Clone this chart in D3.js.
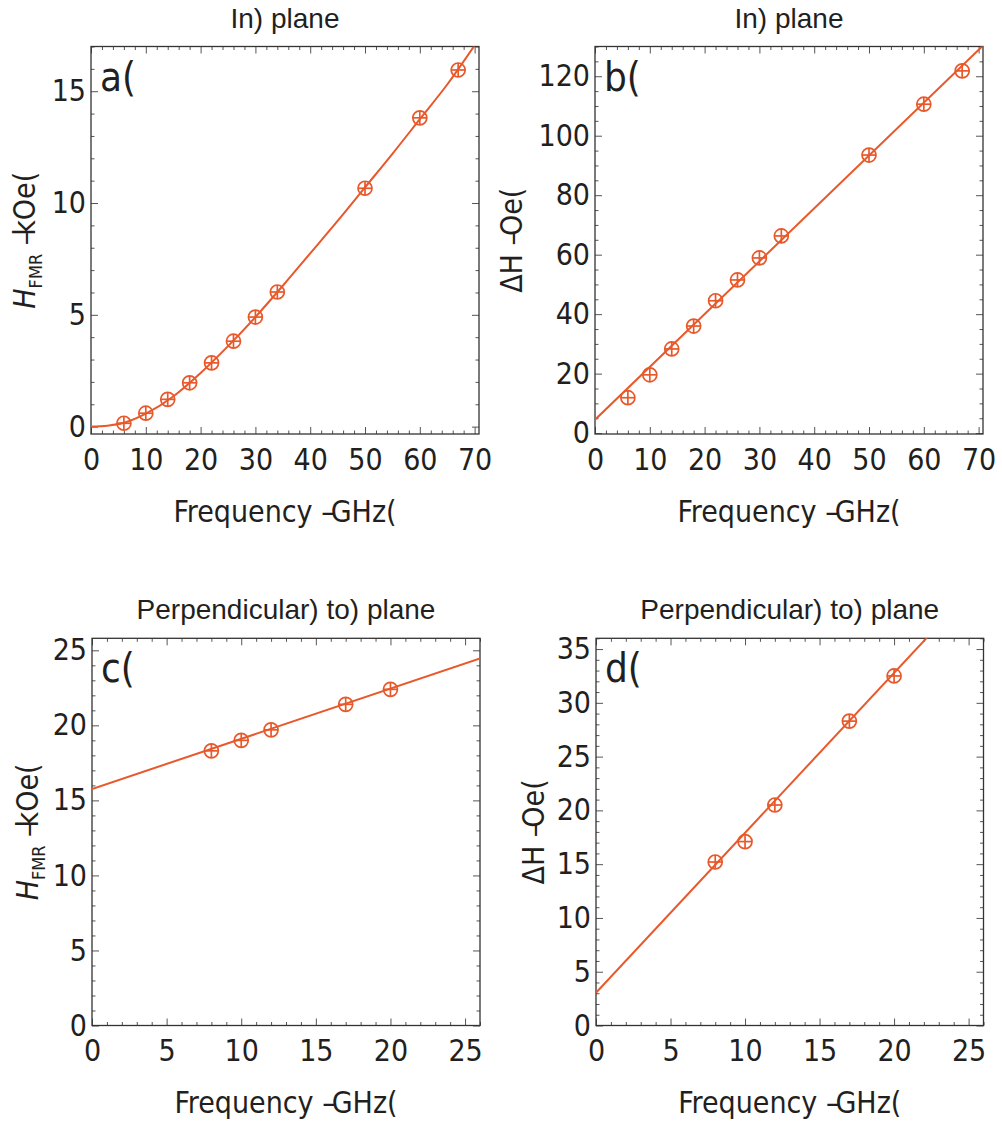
<!DOCTYPE html>
<html>
<head>
<meta charset="utf-8">
<script src="https://cdn.jsdelivr.net/npm/d3@7"></script>
<style>
  body { margin: 0; background: #fff; }
  svg { display: block; }
  .tick text { font-family: "DejaVu Sans Condensed", "DejaVu Sans", sans-serif; font-size: 30px; fill: #231f20; }
  .tick line { stroke: #555; stroke-width: 1; }
  .lbl { font-family: "DejaVu Sans Condensed", "DejaVu Sans", sans-serif; font-size: 30px; fill: #231f20; }
  .ttl { font-family: "Liberation Sans", Arial, sans-serif; font-size: 28px; fill: #231f20; }
</style>
</head>
<body>
<script>
// measured points (GHz vs field / linewidth)
var freqInPlane = [6, 10, 14, 18, 22, 26, 30, 34, 50, 60, 67];
var hfmrInPlane = [0.15, 0.6, 1.22, 1.96, 2.85, 3.82, 4.9, 6.02, 10.66, 13.81, 15.95];
var dhInPlane = [11.9, 19.6, 28.3, 36.0, 44.5, 51.5, 58.9, 66.3, 93.5, 110.6, 121.8];

var freqPerp = [8, 10, 12, 17, 20];
var hfmrPerp = [18.3, 19.0, 19.7, 21.4, 22.4];
var dhPerp = [15.2, 17.1, 20.5, 28.3, 32.5];

// fitted lines
var fitAFreq = [0, 3, 6, 10, 15, 20, 25, 30, 35, 40, 45, 50, 55, 60, 65, 70];
var fitAH = [0, 0.04, 0.17, 0.58, 1.35, 2.4, 3.6, 4.9, 6.3, 7.75, 9.2, 10.7, 12.2, 13.75, 15.3, 17.05];
var fitBFreq = [0, 70.8];
var fitBdH = [4.5, 130.3];
var fitCFreq = [0, 26];
var fitCH = [15.76, 24.45];
var fitDFreq = [0, 26];
var fitDdH = [3.05, 41.7];

var titleIn = "In) plane";
var titlePerp = "Perpendicular) to) plane";

var markColour = '#e8582a';
var frameColour = '#333';

var svg = d3.select("body").append("svg")
  .attr("width", 1002)
  .attr("height", 1122);

var panels = [
  { id: "a", left: 91, top: 46.5, w: 388, h: 387.5, title: titleIn, letter: "a(",
    xDom: [0, 70.8], yDom: [-0.33, 17.0], xMaj: 10, xMin: 2, yMaj: 5, yMin: 1,
    px: freqInPlane, py: hfmrInPlane, fx: fitAFreq, fy: fitAH, ylab: "H", labX: 35 },
  { id: "b", left: 595, top: 46.5, w: 388, h: 387.5, title: titleIn, letter: "b(",
    xDom: [0, 70.8], yDom: [-0.3, 130], xMaj: 10, xMin: 2, yMaj: 20, yMin: 5,
    px: freqInPlane, py: dhInPlane, fx: fitBFreq, fy: fitBdH, ylab: "dH", labX: 522 },
  { id: "c", left: 92, top: 638.3, w: 388, h: 387.2, title: titlePerp, letter: "c(",
    xDom: [0, 26], yDom: [0, 25.8], xMaj: 5, xMin: 1, yMaj: 5, yMin: 1,
    px: freqPerp, py: hfmrPerp, fx: fitCFreq, fy: fitCH, ylab: "H", labX: 38 },
  { id: "d", left: 596, top: 638.3, w: 387.5, h: 387.2, title: titlePerp, letter: "d(",
    xDom: [0, 26], yDom: [0, 36], xMaj: 5, xMin: 1, yMaj: 5, yMin: 1,
    px: freqPerp, py: dhPerp, fx: fitDFreq, fy: fitDdH, ylab: "dH", labX: 544 }
];

function steps(dom, step) {
  var out = [];
  var start = Math.ceil(dom[0] / step - 1e-9) * step;
  for (var v = start; v <= dom[1] + 1e-9; v += step) out.push(+v.toFixed(6));
  return out;
}

function drawPanel(p) {
  var x = d3.scaleLinear().domain(p.xDom).range([0, p.w]);
  var y = d3.scaleLinear().domain(p.yDom).range([p.h, 0]);
  var g = svg.append("g").attr("transform", "translate(" + p.left + "," + p.top + ")");

  var xMaj = steps(p.xDom, p.xMaj), xMin = steps(p.xDom, p.xMin);
  var yMaj = steps(p.yDom, p.yMaj), yMin = steps(p.yDom, p.yMin);
  xMin = xMin.filter(function(v) { return xMaj.indexOf(v) < 0; });
  yMin = yMin.filter(function(v) { return yMaj.indexOf(v) < 0; });

  // inward ticks on all four sides
  function ax(gen, scale, vals, size, fmt, pad) {
    return gen(scale).tickValues(vals).tickSize(size).tickPadding(pad).tickFormat(fmt);
  }
  var none = function() { return ""; };
  var num = d3.format("d");

  g.append("g").attr("transform", "translate(0," + p.h + ")").call(ax(d3.axisBottom, x, xMaj, -7, num, 14.5));
  g.append("g").attr("transform", "translate(0," + p.h + ")").call(ax(d3.axisBottom, x, xMin, -3.5, none, 0));
  g.append("g").call(ax(d3.axisTop, x, xMaj, -7, none, 0));
  g.append("g").call(ax(d3.axisTop, x, xMin, -3.5, none, 0));
  g.append("g").call(ax(d3.axisLeft, y, yMaj, -7, num, 5));
  g.append("g").call(ax(d3.axisLeft, y, yMin, -3.5, none, 0));
  g.append("g").attr("transform", "translate(" + p.w + ",0)").call(ax(d3.axisRight, y, yMaj, -7, none, 0));
  g.append("g").attr("transform", "translate(" + p.w + ",0)").call(ax(d3.axisRight, y, yMin, -3.5, none, 0));
  g.selectAll(".domain").remove();

  g.append("rect")
    .attr("width", p.w).attr("height", p.h)
    .attr("fill", "none").attr("stroke", frameColour).attr("stroke-width", 1.3);

  svg.append("defs").append("clipPath").attr("id", "clip-" + p.id)
    .append("rect").attr("width", p.w).attr("height", p.h);

  var fit = p.fx.map(function(f, i) { return [f, p.fy[i]]; });
  g.append("path")
    .datum(fit)
    .attr("clip-path", "url(#clip-" + p.id + ")")
    .attr("fill", "none")
    .attr("stroke", markColour)
    .attr("stroke-width", 2)
    .attr("d", d3.line().curve(d3.curveMonotoneX)
      .x(function(d) { return x(d[0]); })
      .y(function(d) { return y(d[1]); }));

  var pts = p.px.map(function(f, i) { return [f, p.py[i]]; });
  var r = 7;
  var m = g.selectAll("g.mark").data(pts).enter().append("g")
    .attr("class", "mark")
    .attr("transform", function(d) { return "translate(" + x(d[0]) + "," + y(d[1]) + ")"; })
    .attr("stroke", markColour).attr("stroke-width", 1.7).attr("fill", "none");
  m.append("circle").attr("r", r);
  m.append("line").attr("x1", -r).attr("x2", r);
  m.append("line").attr("y1", -r).attr("y2", r);

  // panel letter
  g.append("text").attr("class", "lbl")
    .attr("x", 9).attr("y", 44)
    .style("font-size", "40px")
    .text(p.letter);

  // title
  svg.append("text").attr("class", "ttl")
    .attr("x", p.left + p.w / 2).attr("y", p.top - 19)
    .attr("text-anchor", "middle")
    .text(p.title);

  // x title (dash butts against the unit)
  var xt = svg.append("text").attr("class", "lbl")
    .attr("x", p.left + p.w / 2).attr("y", p.top + p.h + 87.5)
    .attr("text-anchor", "middle");
  xt.append("tspan").text("Frequency \u2013");
  xt.append("tspan").attr("dx", -4).text("GHz(");

  // y title
  var yt = svg.append("text").attr("class", "lbl")
    .attr("text-anchor", "middle")
    .attr("transform", "translate(" + p.labX + "," + (p.top + p.h / 2) + ") rotate(-90)");
  if (p.ylab === "H") {
    yt.append("tspan").style("font-style", "italic").text("H");
    yt.append("tspan").attr("dy", 7).style("font-size", "18px").text("FMR");
    yt.append("tspan").attr("dy", -7).text(" \u2013");
    yt.append("tspan").attr("dx", -4).text("kOe(");
  } else {
    yt.append("tspan").text("\u0394H \u2013");
    yt.append("tspan").attr("dx", -4).text("Oe(");
  }
}

panels.forEach(drawPanel);
</script>
</body>
</html>
